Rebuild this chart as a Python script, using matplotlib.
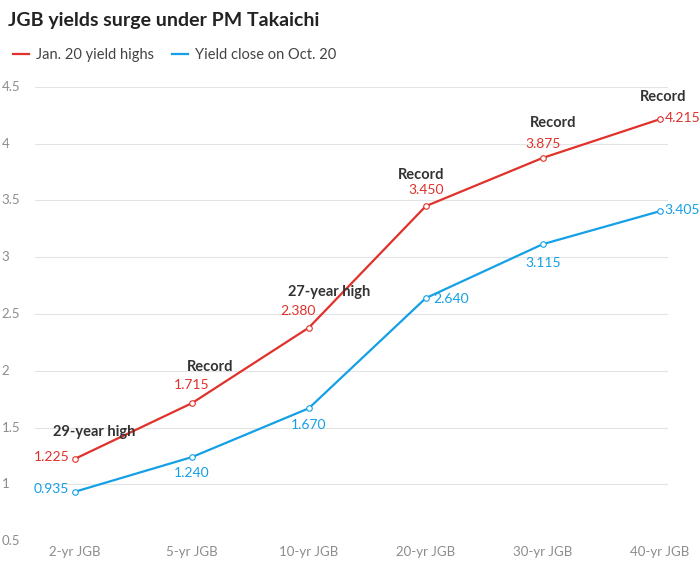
import matplotlib.pyplot as plt
from matplotlib.lines import Line2D

plt.rcParams["font.family"] = ["Lato", "DejaVu Sans"]

tenors = ["2-yr JGB", "5-yr JGB", "10-yr JGB", "20-yr JGB", "30-yr JGB", "40-yr JGB"]
jan20_highs = [1.225, 1.715, 2.380, 3.450, 3.875, 4.215]
oct20_close = [0.935, 1.240, 1.670, 2.640, 3.115, 3.405]
notes = ["29-year high", "Record", "27-year high", "Record", "Record", "Record"]
y_ticks = [0.5, 1, 1.5, 2, 2.5, 3, 3.5, 4, 4.5]

RED = "#e0312a"
BLUE = "#14a0e6"
DARK = "#333333"
GREY = "#8c8c8c"

# label placement (offset pixels, alignment)
red_offsets = [((-5, 2), "right"), ((0, 18), "center"), ((-11, 17), "center"),
               ((0, 16), "center"), ((0, 14), "center"), ((5, 1), "left")]
blue_offsets = [((-6, 3), "right"), ((0, -16), "center"), ((0, -17), "center"),
                ((8, -1), "left"), ((0, -19), "center"), ((5, 1), "left")]
note_offsets = [(19, 27), (18, 36), (20, 36), (-5, 31), (10, 35), (4, 22)]

fig = plt.figure(figsize=(7, 5.72), dpi=100)
ax = fig.add_axes([0.05, 0.054, 0.904, 0.794])
x = list(range(len(tenors)))

ax.plot(x, jan20_highs, color=RED, lw=1.6, zorder=3, clip_on=False)
ax.plot(x, oct20_close, color=BLUE, lw=1.6, zorder=3, clip_on=False)
ax.scatter(x, jan20_highs, s=16, facecolor="white", edgecolor=RED, lw=0.8, zorder=4, clip_on=False)
ax.scatter(x, oct20_close, s=16, facecolor="white", edgecolor=BLUE, lw=0.8, zorder=4, clip_on=False)

for i in x:
    (dx, dy), ha = red_offsets[i]
    ax.annotate(f"{jan20_highs[i]:.3f}", (i, jan20_highs[i]), xytext=(dx, dy),
                textcoords="offset pixels", ha=ha, va="center", color=RED, fontsize=10)
    (dx, dy), ha = blue_offsets[i]
    ax.annotate(f"{oct20_close[i]:.3f}", (i, oct20_close[i]), xytext=(dx, dy),
                textcoords="offset pixels", ha=ha, va="center", color=BLUE, fontsize=10)
    ax.annotate(notes[i], (i, jan20_highs[i]), xytext=note_offsets[i],
                textcoords="offset pixels", ha="center", va="center",
                color=DARK, fontsize=10.5, fontweight="bold")

ax.set_xlim(-0.342, 5.07)
ax.set_ylim(0.5, 4.5)
ax.set_yticks(y_ticks)
ax.set_yticklabels([f"{v:g}" for v in y_ticks])
ax.set_xticks(x)
ax.set_xticklabels(tenors)
ax.grid(axis="y", color="#e3e3e3", lw=0.8)
ax.set_axisbelow(True)
for s in ax.spines.values():
    s.set_visible(False)
ax.tick_params(length=0, colors=GREY, labelsize=9.5)
for lab in ax.get_yticklabels():
    lab.set_horizontalalignment("left")
    lab.set_x(-0.045)
    lab.set_verticalalignment("center")

fig.text(0.012, 0.965, "JGB yields surge under PM Takaichi", fontsize=14,
         fontweight="bold", color="#222222", va="center")
handles = [Line2D([], [], color=RED, lw=1.6), Line2D([], [], color=BLUE, lw=1.6)]
fig.legend(handles, ["Jan. 20 yield highs", "Yield close on Oct. 20"], loc="center left",
           bbox_to_anchor=(0.0, 0.903), ncol=2, frameon=False, fontsize=10.5,
           handlelength=1.1, handletextpad=0.5, columnspacing=1.2, labelcolor="#444444")

fig.savefig("out.png", dpi=100)
